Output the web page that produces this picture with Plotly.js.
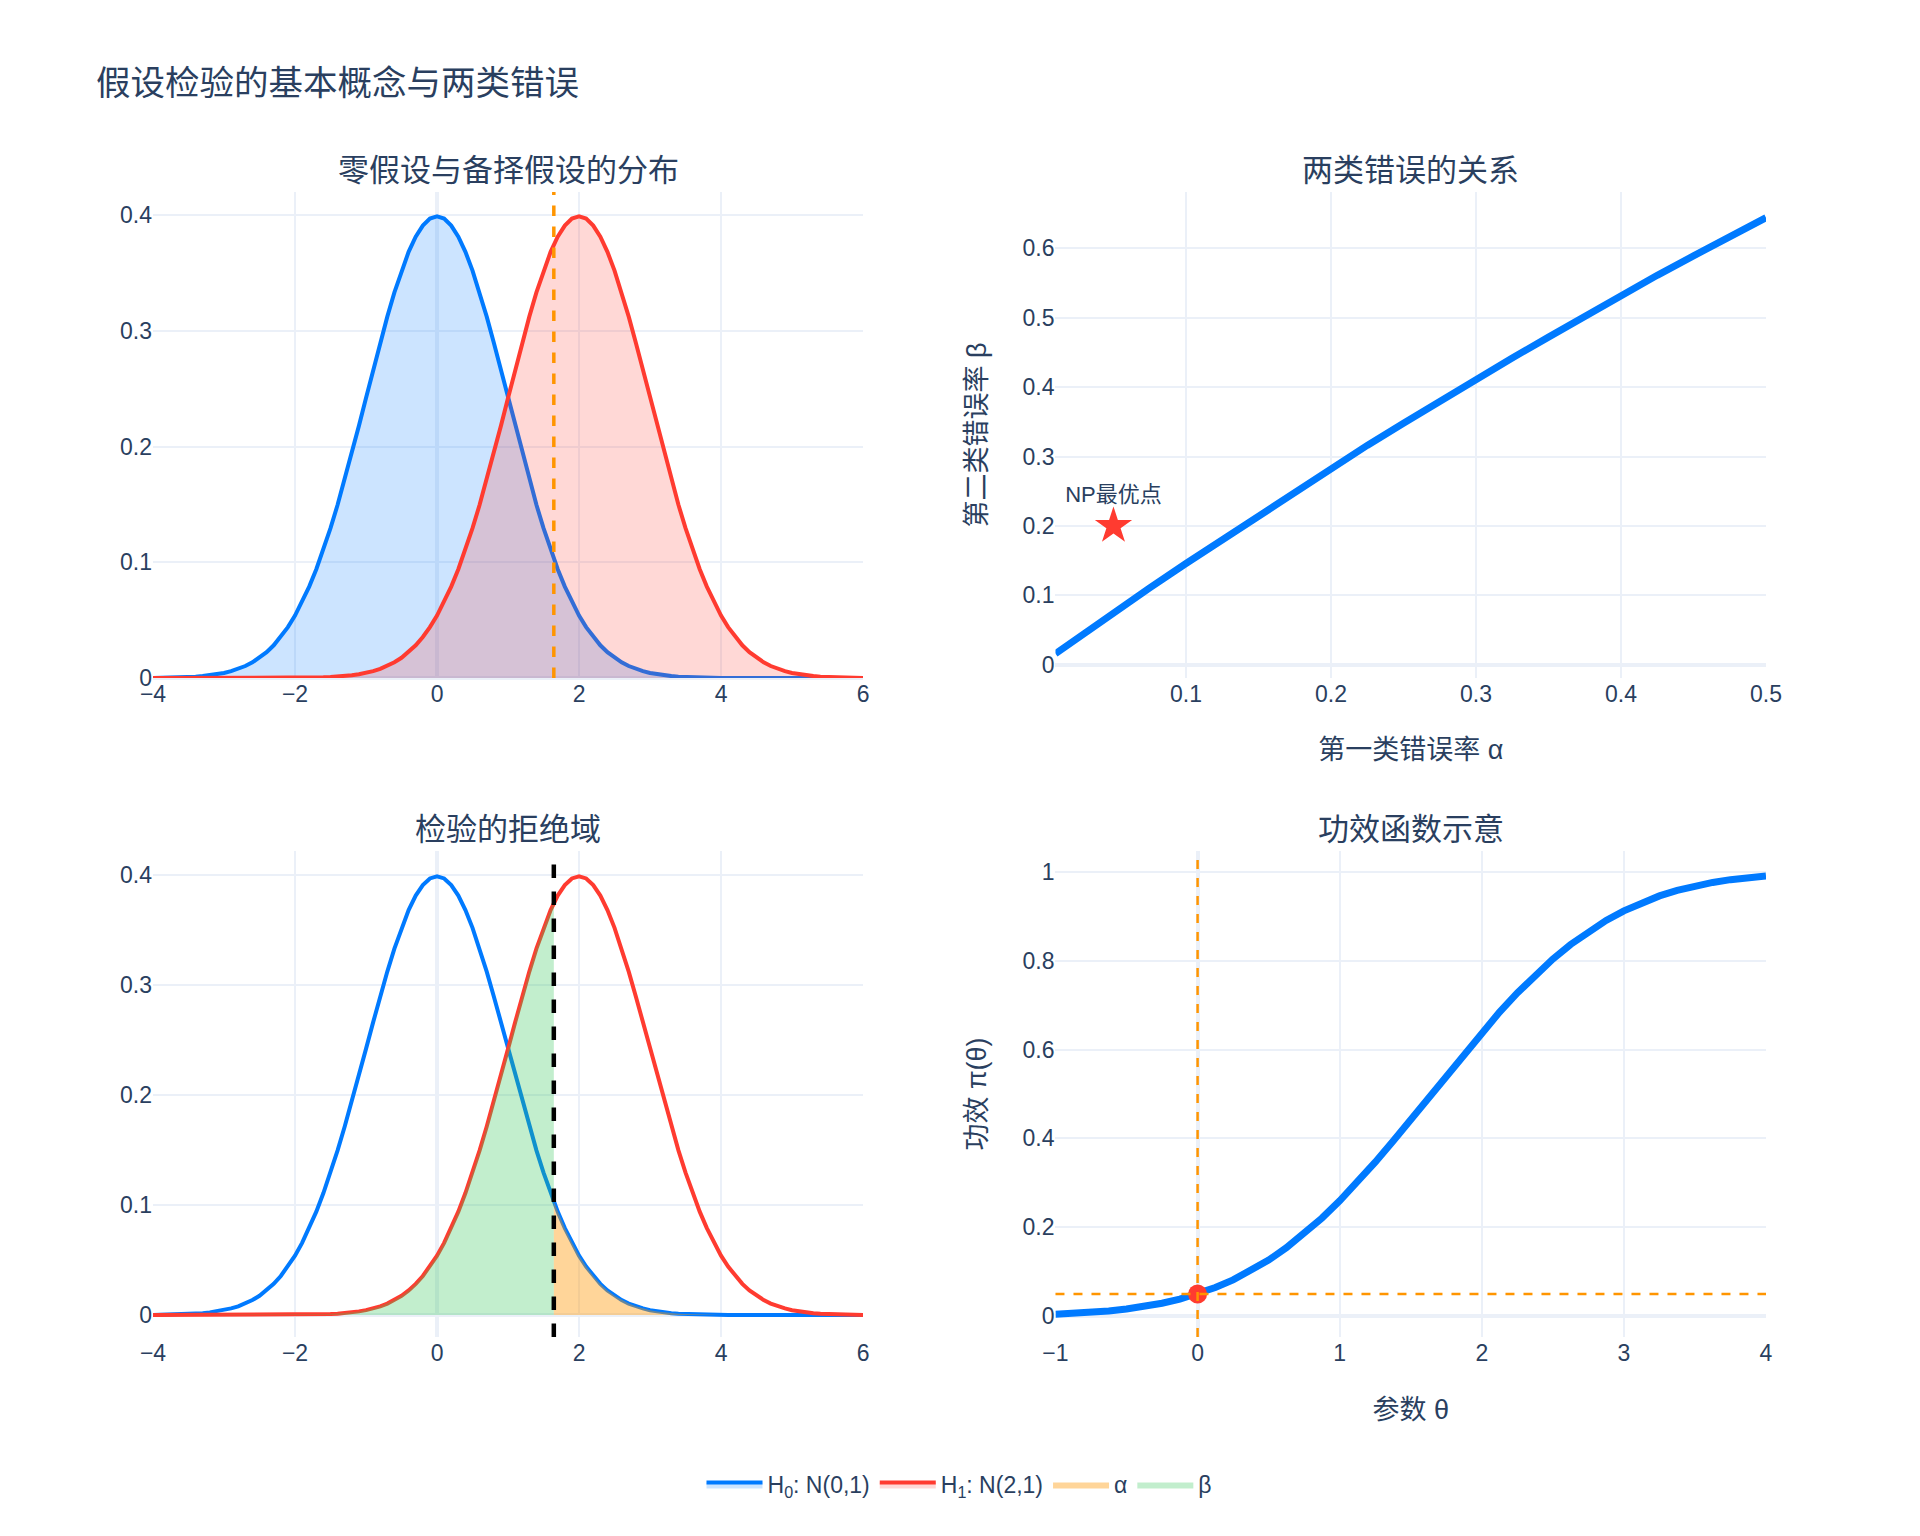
<!DOCTYPE html>
<html>
<head>
<meta charset="utf-8">
<script src="https://cdn.plot.ly/plotly-3.0.1.min.js"></script>
<style>html,body{margin:0;padding:0;background:#fff}#chart{width:1920px;height:1536px}</style>
</head>
<body>
<div id="chart"></div>
<script>
// ---- data ----
const densX = [-4,-3.9,-3.8,-3.7,-3.6,-3.5,-3.4,-3.3,-3.2,-3.1,-3,-2.9,-2.8,-2.7,-2.6,-2.5,-2.4,-2.3,-2.2,-2.1,-2,-1.9,-1.8,-1.7,-1.6,-1.5,-1.4,-1.3,-1.2,-1.1,-1,-0.9,-0.8,-0.7,-0.6,-0.5,-0.4,-0.3,-0.2,-0.1,0,0.1,0.2,0.3,0.4,0.5,0.6,0.7,0.8,0.9,1,1.1,1.2,1.3,1.4,1.5,1.6,1.7,1.8,1.9,2,2.1,2.2,2.3,2.4,2.5,2.6,2.7,2.8,2.9,3,3.1,3.2,3.3,3.4,3.5,3.6,3.7,3.8,3.9,4,4.1,4.2,4.3,4.4,4.5,4.6,4.7,4.8,4.9,5,5.1,5.2,5.3,5.4,5.5,5.6,5.7,5.8,5.9,6];
const h0Density = [0.0001,0.0002,0.0003,0.0004,0.0006,0.0009,0.0012,0.0017,0.0024,0.0033,0.0044,0.0060,0.0079,0.0104,0.0136,0.0175,0.0224,0.0283,0.0355,0.0440,0.0540,0.0656,0.0790,0.0940,0.1109,0.1295,0.1497,0.1714,0.1942,0.2179,0.2420,0.2661,0.2897,0.3123,0.3332,0.3521,0.3683,0.3814,0.3910,0.3970,0.3989,0.3970,0.3910,0.3814,0.3683,0.3521,0.3332,0.3123,0.2897,0.2661,0.2420,0.2179,0.1942,0.1714,0.1497,0.1295,0.1109,0.0940,0.0790,0.0656,0.0540,0.0440,0.0355,0.0283,0.0224,0.0175,0.0136,0.0104,0.0079,0.0060,0.0044,0.0033,0.0024,0.0017,0.0012,0.0009,0.0006,0.0004,0.0003,0.0002,0.0001,0,0,0,0,0,0,0,0,0,0,0,0,0,0,0,0,0,0,0,0];
const h1Density = [0,0,0,0,0,0,0,0,0,0,0,0,0,0,0,0,0,0,0,0,0.0001,0.0002,0.0003,0.0004,0.0006,0.0009,0.0012,0.0017,0.0024,0.0033,0.0044,0.0060,0.0079,0.0104,0.0136,0.0175,0.0224,0.0283,0.0355,0.0440,0.0540,0.0656,0.0790,0.0940,0.1109,0.1295,0.1497,0.1714,0.1942,0.2179,0.2420,0.2661,0.2897,0.3123,0.3332,0.3521,0.3683,0.3814,0.3910,0.3970,0.3989,0.3970,0.3910,0.3814,0.3683,0.3521,0.3332,0.3123,0.2897,0.2661,0.2420,0.2179,0.1942,0.1714,0.1497,0.1295,0.1109,0.0940,0.0790,0.0656,0.0540,0.0440,0.0355,0.0283,0.0224,0.0175,0.0136,0.0104,0.0079,0.0060,0.0044,0.0033,0.0024,0.0017,0.0012,0.0009,0.0006,0.0004,0.0003,0.0002,0.0001];
const criticalValue = 1.645;
const h0AtCritical = 0.1031;
const h1AtCritical = 0.3747;

const alphaRate = [0.01,0.025,0.05,0.075,0.1,0.125,0.15,0.175,0.2,0.225,0.25,0.275,0.3,0.325,0.35,0.375,0.4,0.425,0.45,0.475,0.5];
const betaRate  = [0.016,0.038,0.076,0.111,0.146,0.180,0.214,0.249,0.284,0.316,0.348,0.380,0.411,0.442,0.472,0.502,0.532,0.561,0.589,0.617,0.644];
const npPoint = {alpha: 0.05, beta: 0.2, label: 'NP最优点'};

const theta = [-1,-0.875,-0.75,-0.625,-0.5,-0.375,-0.25,-0.125,0,0.125,0.25,0.375,0.5,0.625,0.75,0.875,1,1.125,1.25,1.375,1.5,1.625,1.75,1.875,2,2.125,2.25,2.375,2.5,2.625,2.75,2.875,3,3.125,3.25,3.375,3.5,3.625,3.75,3.875,4];
const power = [0.0041,0.0059,0.0083,0.0116,0.0160,0.0217,0.0290,0.0384,0.0500,0.0643,0.0815,0.1020,0.1261,0.1539,0.1854,0.2206,0.2595,0.3015,0.3464,0.3936,0.4424,0.4920,0.5418,0.5910,0.6387,0.6844,0.7274,0.7673,0.8037,0.8365,0.8654,0.8907,0.9123,0.9306,0.9458,0.9582,0.9682,0.9761,0.9824,0.9871,0.9907];
const sigLevel = 0.05;

const subplotTitles = ['零假设与备择假设的分布','两类错误的关系','检验的拒绝域','功效函数示意'];
const legendNames = ['H<sub>0</sub>: N(0,1)','H<sub>1</sub>: N(2,1)','α','β'];

// ---- derived fill regions (built from the arrays above) ----
const betaX = [], betaY = [], alphaX = [criticalValue], alphaY = [h0AtCritical];
densX.forEach((x,i)=>{ if (x < criticalValue) { betaX.push(x); betaY.push(h1Density[i]); } });
betaX.push(criticalValue); betaY.push(h1AtCritical);
densX.forEach((x,i)=>{ if (x > criticalValue) { alphaX.push(x); alphaY.push(h0Density[i]); } });

const BLUE = '#007AFF', RED = '#FF3B30', ORANGE = '#FF9500';
const FONT = 'Liberation Sans, Noto Sans CJK SC, sans-serif';
const TXT = '#2a3f5f', GRID = '#EBF0F8';

const traces = [
  {x: densX, y: h0Density, type:'scatter', mode:'lines', name: legendNames[0], legendrank:1,
   line:{color:BLUE, width:4}, fill:'tozeroy', fillcolor:'rgba(0,122,255,0.2)', xaxis:'x', yaxis:'y'},
  {x: densX, y: h1Density, type:'scatter', mode:'lines', name: legendNames[1], legendrank:2,
   line:{color:RED, width:4}, fill:'tozeroy', fillcolor:'rgba(255,59,48,0.2)', xaxis:'x', yaxis:'y'},
  {x: alphaRate, y: betaRate, type:'scatter', mode:'lines', showlegend:false,
   line:{color:BLUE, width:7}, xaxis:'x2', yaxis:'y2'},
  {x: [npPoint.alpha], y: [npPoint.beta], type:'scatter', mode:'markers+text', showlegend:false,
   text:[npPoint.label], textposition:'top center', textfont:{size:22, color:TXT, family:FONT},
   marker:{symbol:'star', size:28, color:RED}, xaxis:'x2', yaxis:'y2'},
  {x: densX, y: h0Density, type:'scatter', mode:'lines', showlegend:false,
   line:{color:BLUE, width:4}, xaxis:'x3', yaxis:'y3'},
  {x: densX, y: h1Density, type:'scatter', mode:'lines', showlegend:false,
   line:{color:RED, width:4}, xaxis:'x3', yaxis:'y3'},
  {x: betaX, y: betaY, type:'scatter', mode:'lines', name: legendNames[3], legendrank:4,
   line:{width:0, color:'rgba(52,199,89,0.3)'}, fill:'tozeroy', fillcolor:'rgba(52,199,89,0.3)', xaxis:'x3', yaxis:'y3'},
  {x: alphaX, y: alphaY, type:'scatter', mode:'lines', name: legendNames[2], legendrank:3,
   line:{width:0, color:'rgba(255,149,0,0.4)'}, fill:'tozeroy', fillcolor:'rgba(255,149,0,0.4)', xaxis:'x3', yaxis:'y3'},
  {x: theta, y: power, type:'scatter', mode:'lines', showlegend:false,
   line:{color:BLUE, width:7}, xaxis:'x4', yaxis:'y4'},
  {x: [0], y: [sigLevel], type:'scatter', mode:'markers', showlegend:false,
   marker:{color:RED, size:19}, xaxis:'x4', yaxis:'y4'}
];

function ax(extra){
  return Object.assign({gridcolor:GRID, gridwidth:2, zerolinecolor:GRID, zerolinewidth:4,
    showline:false, ticks:'', tickfont:{size:23, color:TXT, family:FONT}}, extra);
}
function ttl(text, standoff){ return {text:text, standoff:standoff, font:{size:27, color:TXT, family:FONT}}; }
const dL = [0, 0.4402], dR = [0.5595, 1], dT = [0.5755, 1], dB = [0, 0.4245];

const layout = {
  width:1920, height:1536,
  paper_bgcolor:'#fff', plot_bgcolor:'#fff',
  font:{family:FONT, color:TXT, size:23},
  margin:{l:153, r:154, t:192, b:199},
  title:{text:'假设检验的基本概念与两类错误', x:0.05, xref:'container', xanchor:'left',
         y:0.946, yref:'container', yanchor:'middle', font:{size:34.5, color:TXT, family:FONT}},
  xaxis: ax({domain:dL, anchor:'y', range:[-4,6], dtick:2}),
  yaxis: ax({domain:dT, anchor:'x', range:[0,0.42], dtick:0.1}),
  xaxis2: ax({domain:dR, anchor:'y2', range:[0.01,0.5], dtick:0.1, title:ttl('第一类错误率 α', 34)}),
  yaxis2: ax({domain:dT, anchor:'x2', range:[-0.019,0.681], dtick:0.1, title:ttl('第二类错误率 β', 28)}),
  xaxis3: ax({domain:dL, anchor:'y3', range:[-4,6], dtick:2}),
  yaxis3: ax({domain:dB, anchor:'x3', range:[-0.02,0.422], dtick:0.1}),
  xaxis4: ax({domain:dR, anchor:'y4', range:[-1,4], dtick:1, title:ttl('参数 θ', 35)}),
  yaxis4: ax({domain:dB, anchor:'x4', range:[-0.047,1.047], dtick:0.2, title:ttl('功效 π(θ)', 28)}),
  legend:{orientation:'h', x:0.5, xanchor:'center', y:-0.11, yanchor:'top', itemwidth:56,
          font:{size:23, color:TXT, family:FONT}, traceorder:'normal'},
  shapes:[
    {type:'line', xref:'x', yref:'y domain', x0:criticalValue, x1:criticalValue, y0:0, y1:1,
     line:{color:ORANGE, width:3.5, dash:'dash'}},
    {type:'line', xref:'x3', yref:'y3 domain', x0:criticalValue, x1:criticalValue, y0:0, y1:1,
     line:{color:'#000', width:4.5, dash:'dash'}},
    {type:'line', xref:'x4', yref:'y4 domain', x0:0, x1:0, y0:0, y1:1,
     line:{color:ORANGE, width:2.5, dash:'dash'}},
    {type:'line', xref:'x4 domain', yref:'y4', x0:0, x1:1, y0:sigLevel, y1:sigLevel,
     line:{color:ORANGE, width:2.5, dash:'dash'}}
  ],
  annotations: subplotTitles.map((t,i)=>({text:t, x: i%2===0 ? (dL[0]+dL[1])/2 : (dR[0]+dR[1])/2,
    y: i<2 ? dT[1] : dB[1], xref:'paper', yref:'paper', xanchor:'center', yanchor:'bottom',
    showarrow:false, yshift:2, font:{size:31, color:TXT, family:FONT}}))
};

Plotly.newPlot('chart', traces, layout, {displayModeBar:false, staticPlot:true});
</script>
</body>
</html>
